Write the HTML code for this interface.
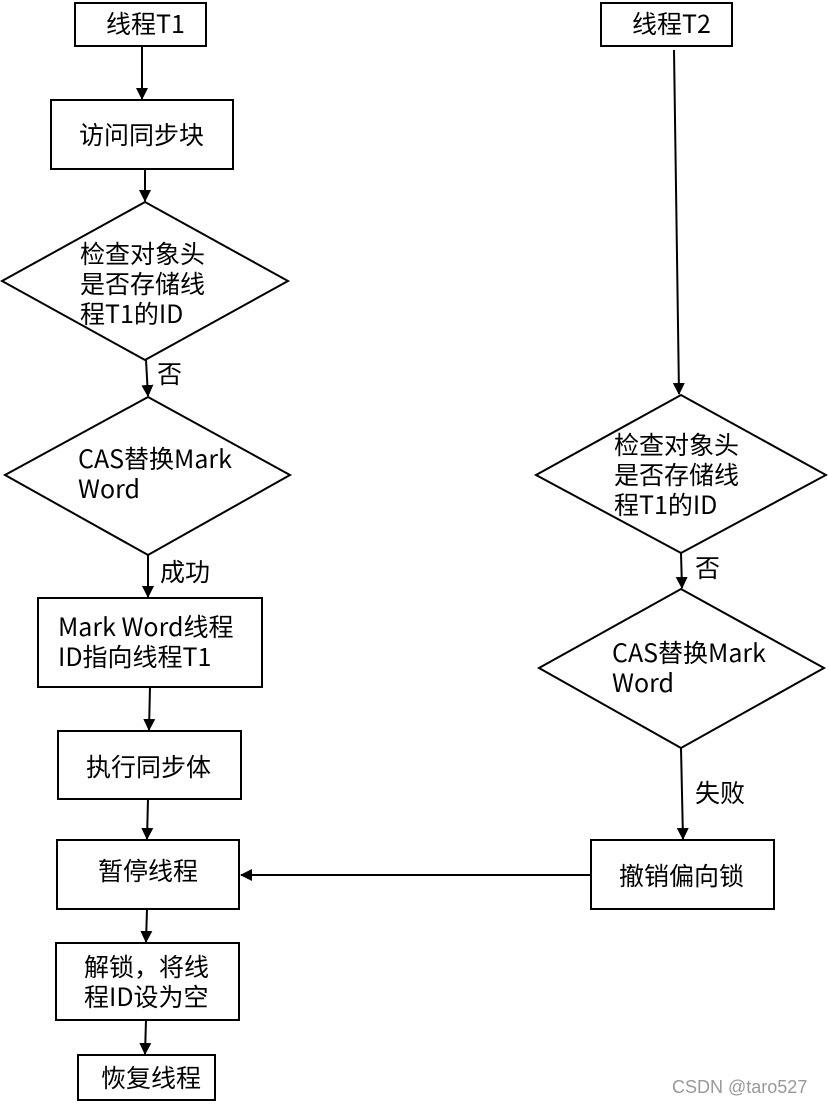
<!DOCTYPE html>
<html><head><meta charset="utf-8"><style>
html,body{margin:0;padding:0;background:#fff;}
svg text{font-family:"Noto Sans CJK SC","Liberation Sans",sans-serif;font-size:25px;fill:#000;}
</style></head><body>
<svg width="828" height="1105" viewBox="0 0 828 1105" xmlns="http://www.w3.org/2000/svg">
<defs><marker id="a" markerWidth="12" markerHeight="14" refX="11" refY="7" orient="auto" markerUnits="userSpaceOnUse"><path d="M0,1 L12,7 L0,13 z" fill="#000"/></marker></defs>
<g fill="#fff" stroke="#000" stroke-width="2">
<rect x="75" y="3" width="131" height="43"/>
<rect x="51" y="100" width="182" height="69"/>
<polygon points="2,281 145,202 288,281 145,360"/>
<polygon points="5,475 148,397 290,475 148,555"/>
<rect x="38" y="598" width="224" height="89"/>
<rect x="58" y="731" width="183" height="68"/>
<rect x="57" y="840" width="182" height="69"/>
<rect x="56" y="943" width="183" height="77"/>
<rect x="78" y="1055" width="137" height="45"/>
<rect x="601" y="3" width="131" height="43"/>
<polygon points="536,475 681,395 826,475 681,553"/>
<polygon points="539,668 681,589 824,668 681,748"/>
<rect x="591" y="840" width="183" height="69"/>
</g>
<g stroke="#000" stroke-width="2" marker-end="url(#a)" fill="none">
<line x1="142" y1="46" x2="142" y2="99"/>
<line x1="145" y1="169" x2="145" y2="201"/>
<line x1="146" y1="360" x2="148" y2="396"/>
<line x1="148" y1="555" x2="148" y2="597"/>
<line x1="150" y1="687" x2="149" y2="730"/>
<line x1="148" y1="799" x2="147" y2="839"/>
<line x1="147" y1="909" x2="146" y2="942"/>
<line x1="146" y1="1020" x2="145" y2="1054"/>
<line x1="674" y1="50" x2="679" y2="394"/>
<line x1="681" y1="553" x2="682" y2="588"/>
<line x1="681" y1="748" x2="683" y2="839"/>
<line x1="591" y1="875" x2="241" y2="875"/>
</g>
<g dominant-baseline="central">
<text x="106" y="23">线程T1</text>
<text x="79" y="134">访问同步块</text>
<text x="80" y="253">检查对象头</text>
<text x="80" y="283">是否存储线</text>
<text x="80" y="313">程T1的ID</text>
<text x="157" y="373">否</text>
<text x="78" y="458">CAS替换Mark</text>
<text x="78" y="488">Word</text>
<text x="160" y="571">成功</text>
<text x="58" y="626">Mark Word线程</text>
<text x="58" y="656">ID指向线程T1</text>
<text x="86" y="766">执行同步体</text>
<text x="98" y="870">暂停线程</text>
<text x="84" y="966">解锁，将线</text>
<text x="84" y="996">程ID设为空</text>
<text x="101" y="1077">恢复线程</text>
<text x="632" y="23">线程T2</text>
<text x="614" y="444">检查对象头</text>
<text x="614" y="474">是否存储线</text>
<text x="614" y="504">程T1的ID</text>
<text x="695" y="567">否</text>
<text x="612" y="652">CAS替换Mark</text>
<text x="612" y="682">Word</text>
<text x="695" y="792">失败</text>
<text x="619" y="875">撤销偏向锁</text>
<text x="672" y="1087" style="font-size:18px;fill:#999;font-family:'Liberation Sans',sans-serif">CSDN @taro527</text>
</g>
</svg>
</body></html>
